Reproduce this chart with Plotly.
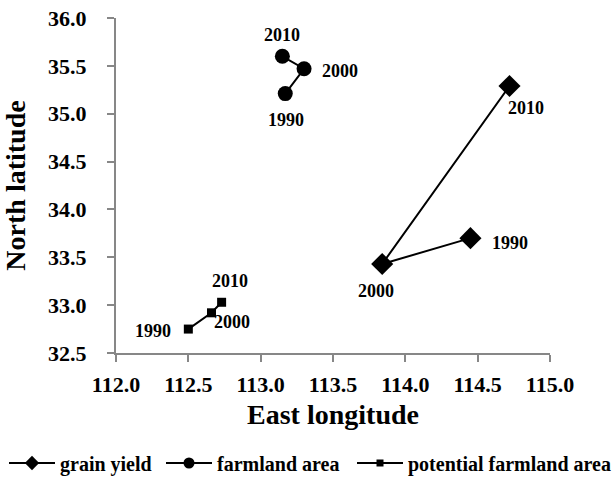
import plotly.graph_objects as go

years = ["1990", "2000", "2010"]

grain_lon = [114.45, 113.84, 114.72]
grain_lat = [33.70, 33.43, 35.29]

farm_lon = [113.17, 113.30, 113.15]
farm_lat = [35.21, 35.47, 35.60]

pot_lon = [112.50, 112.66, 112.73]
pot_lat = [32.75, 32.92, 33.03]

x_ticks = [112.0, 112.5, 113.0, 113.5, 114.0, 114.5, 115.0]
y_ticks = [32.5, 33.0, 33.5, 34.0, 34.5, 35.0, 35.5, 36.0]

FONT = "Liberation Serif"

series = [
    ("<b>grain yield</b>", grain_lon, grain_lat, "diamond", 17, 11, "legend"),
    ("<b>farmland area</b>", farm_lon, farm_lat, "circle", 15, 11, "legend2"),
    ("<b>potential farmland area</b>", pot_lon, pot_lat, "square", 9, 7, "legend3"),
]

fig = go.Figure()
for name, xs, ys, sym, size, legsize, lg in series:
    fig.add_trace(go.Scatter(x=xs, y=ys, mode="lines+markers", name=name, showlegend=False,
                             line=dict(color="black", width=2),
                             marker=dict(symbol=sym, size=size, color="black")))
    # legend entry with the smaller legend symbol
    fig.add_trace(go.Scatter(x=[None], y=[None], mode="lines+markers", name=name, legend=lg,
                             line=dict(color="black", width=2),
                             marker=dict(symbol=sym, size=legsize, color="black")))

# label offsets in screen pixels (dx right, dy down) for 1990, 2000, 2010
grain_off = [(40, 5), (-6, 27), (17, 22)]
farm_off = [(1, 26), (36, 2), (0, -21)]
pot_off = [(-35, 2), (21, 9), (8, -21)]

annotations = []
for lons, lats, offs in [(grain_lon, grain_lat, grain_off), (farm_lon, farm_lat, farm_off), (pot_lon, pot_lat, pot_off)]:
    for yr, xv, yv, (dx, dy) in zip(years, lons, lats, offs):
        annotations.append(dict(x=xv, y=yv, text=f"<b>{yr}</b>", showarrow=False,
                                xshift=dx, yshift=-dy,
                                font=dict(family=FONT, size=18, color="black")))

def leg(xpx):
    return dict(orientation="h", xref="container", yref="container", x=xpx / 614, y=1 - 463 / 481,
                xanchor="left", yanchor="middle", font=dict(family=FONT, size=20, color="black"),
                itemwidth=46, bgcolor="rgba(0,0,0,0)", borderwidth=0)

AX = "#878787"
fig.update_layout(
    width=614, height=481,
    margin=dict(l=116, r=64, t=18, b=128, autoexpand=False),
    paper_bgcolor="white", plot_bgcolor="white",
    font=dict(family=FONT, color="black"),
    annotations=annotations,
    showlegend=True,
    legend=leg(4), legend2=leg(161), legend3=leg(352),
    xaxis=dict(range=[112.0, 115.0], tickvals=x_ticks, ticktext=[f"<b>{v:.1f}</b>" for v in x_ticks],
               showgrid=False, zeroline=False, showline=True, linecolor=AX, linewidth=2,
               ticks="outside", tickcolor=AX, ticklen=7, tickwidth=2, automargin=True,
               ticklabelstandoff=4,
               tickfont=dict(family=FONT, size=22, color="black"),
               title=dict(text="<b>East longitude</b>", font=dict(family=FONT, size=28, color="black"), standoff=8)),
    yaxis=dict(range=[32.5, 36.0], tickvals=y_ticks, ticktext=[f"<b>{v:.1f}</b>" for v in y_ticks],
               showgrid=False, zeroline=False, showline=True, linecolor=AX, linewidth=2,
               ticks="outside", tickcolor=AX, ticklen=7, tickwidth=2, automargin=True,
               ticklabelstandoff=16,
               tickfont=dict(family=FONT, size=22, color="black"),
               title=dict(text="<b>North latitude</b>", font=dict(family=FONT, size=28, color="black"), standoff=14)),
)

fig.write_html("out.html", config={"displayModeBar": False},
               post_script="document.body.style.margin='0px';")
